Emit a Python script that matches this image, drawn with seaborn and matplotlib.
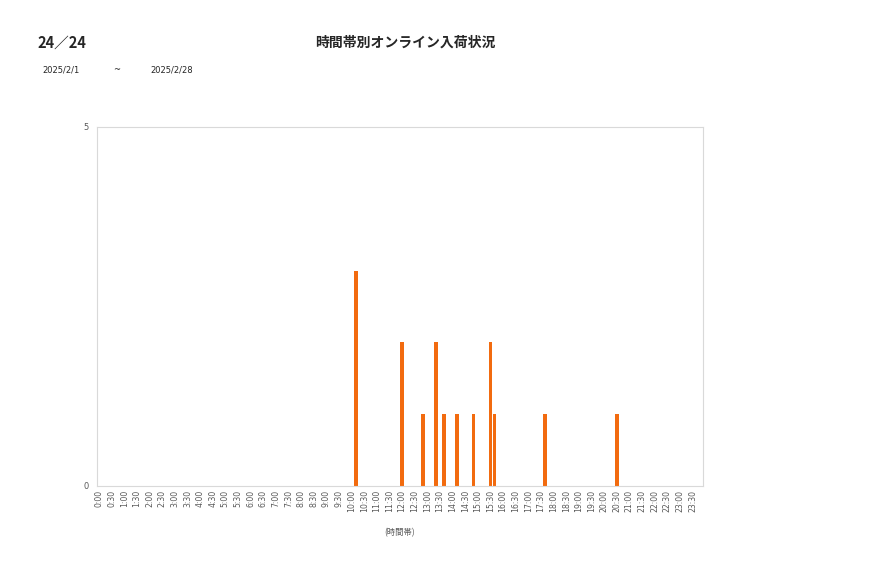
import pandas as pd
import matplotlib
matplotlib.use("Agg")
import matplotlib.pyplot as plt
import seaborn as sns

# 10分刻みの時間帯 (0:00 ~ 23:50)
slots = [f"{h}:{m:02d}" for h in range(24) for m in range(0, 60, 10)]

# 入荷のあった時間帯と件数
arrival_times = ["10:10", "12:00", "12:50", "13:20", "13:40", "14:10",
                 "14:50", "15:30", "15:40", "17:40", "20:30"]
arrival_counts = [3, 2, 1, 2, 1, 1, 1, 2, 1, 1, 1]

counts = dict(zip(arrival_times, arrival_counts))
df = pd.DataFrame({"slot": slots, "count": [counts.get(s, 0) for s in slots]})

sns.set_style("white")
plt.rcParams['font.family'] = ['Noto Sans CJK JP', 'DejaVu Sans']

fig = plt.figure(figsize=(8.77, 5.78), dpi=100)
ax = fig.add_axes([0.1106, 0.1592, 0.691, 0.6211])

sns.barplot(data=df, x="slot", y="count", order=slots, color="#F26B0F",
            saturation=1, width=0.85, linewidth=0, ax=ax)

ax.set_xlim(-0.5, len(slots) - 0.5)
ax.set_ylim(0, 5)
ax.set_yticks([0, 5])
ax.set_yticklabels(["0", "5"], fontsize=6, color="#595959", family="DejaVu Sans")
ticks = list(range(0, len(slots), 3))
ax.set_xticks(ticks)
ax.set_xticklabels([slots[i] for i in ticks], rotation=90, fontsize=5.6,
                   color="#595959", family="DejaVu Sans")
ax.tick_params(axis="x", length=0, pad=3)
ax.tick_params(axis="y", length=0, pad=6)
ax.set_xlabel("(時間帯)", fontsize=6, color="#595959", labelpad=11)
ax.set_ylabel("")
for sp in ax.spines.values():
    sp.set_color("#D9D9D9")
    sp.set_linewidth(0.8)

fig.text(37 / 877, 1 - 43 / 578, "24／24", fontsize=10.5, fontweight="bold", va="center")
fig.text(405 / 877, 1 - 43 / 578, "時間帯別オンライン入荷状況", fontsize=10,
         fontweight="bold", ha="center", va="center")
fig.text(42 / 877, 1 - 70 / 578, "2025/2/1", fontsize=6, va="center", family="DejaVu Sans")
fig.text(113 / 877, 1 - 70 / 578, "~", fontsize=6, va="center", family="DejaVu Sans")
fig.text(150 / 877, 1 - 70 / 578, "2025/2/28", fontsize=6, va="center", family="DejaVu Sans")

fig.savefig("out.png", dpi=100)
